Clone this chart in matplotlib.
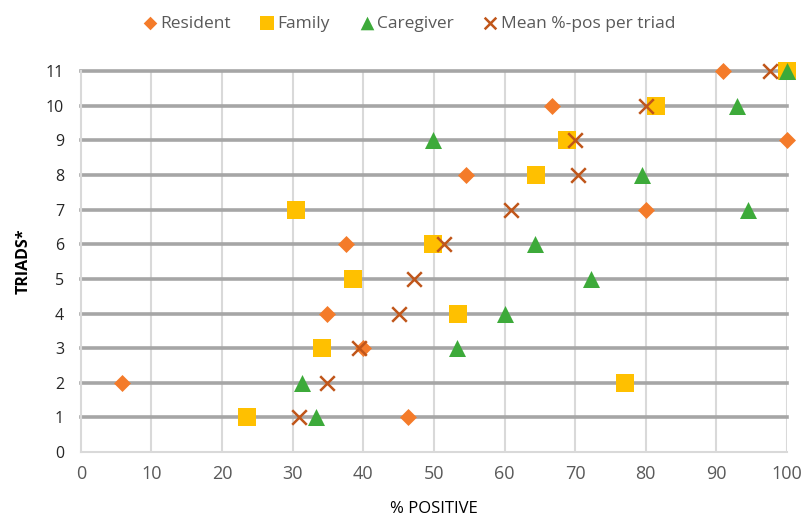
import matplotlib.pyplot as plt

plt.rcParams['font.family'] = ['Open Sans', 'DejaVu Sans']

# % positive per triad
res_x = [46.3, 5.8, 40.0, 34.9, 37.5, 80.0, 54.6, 100.0, 66.7, 91.0]
res_y = [1, 2, 3, 4, 6, 7, 8, 9, 10, 11]

fam_x = [23.5, 77.1, 34.2, 53.4, 38.6, 49.9, 30.5, 64.4, 68.8, 81.4, 100.0]
fam_y = [1, 2, 3, 4, 5, 6, 7, 8, 9, 10, 11]

care_x = [33.3, 31.3, 53.3, 60.1, 72.3, 64.3, 94.5, 79.4, 49.9, 92.9, 100.0]
care_y = [1, 2, 3, 4, 5, 6, 7, 8, 9, 10, 11]

mean_x = [30.9, 34.8, 39.4, 45.0, 47.2, 51.4, 60.9, 70.4, 70.0, 80.0, 97.6]
mean_y = [1, 2, 3, 4, 5, 6, 7, 8, 9, 10, 11]

fig = plt.figure(figsize=(8.08, 5.19), dpi=100)
ax = fig.add_axes([0.100, 0.129, 0.874, 0.734])

ax.scatter(res_x, res_y, marker='D', s=75, color='#F47B2A', label='Resident',
           zorder=3, linewidths=0, clip_on=False)
ax.scatter(fam_x, fam_y, marker='s', s=170, color='#FFC000', label='Family',
           zorder=4, linewidths=0, clip_on=False)
ax.scatter(care_x, care_y, marker='^', s=150, color='#3DAA3A', label='Caregiver',
           zorder=5, linewidths=0, clip_on=False)
ax.scatter(mean_x, mean_y, marker='x', s=110, color='#C0561A', label='Mean %-pos per triad',
           zorder=6, linewidths=1.8, clip_on=False)

ax.set_xlim(0, 100)
ax.set_ylim(0, 11)
ax.set_xticks(range(0, 101, 10))
ax.set_yticks(range(0, 12))

for y in range(1, 12):
    ax.axhline(y, color='#A6A6A6', lw=2.6, zorder=1, clip_on=False)
for x in range(10, 101, 10):
    ax.axvline(x, color='#D9D9D9', lw=1.5, zorder=0.5)

for side in ['top', 'right']:
    ax.spines[side].set_visible(False)
for side in ['left', 'bottom']:
    ax.spines[side].set_color('#D9D9D9')
    ax.spines[side].set_linewidth(1.5)

ax.tick_params(axis='both', length=0)
ax.tick_params(axis='x', labelsize=13, labelcolor='#595959', pad=9)
ax.tick_params(axis='y', labelsize=11.5, labelcolor='#262626', pad=12)

ax.set_xlabel('% POSITIVE', fontsize=12, color='#000000', labelpad=13)
ax.set_ylabel('TRIADS*', fontsize=11.5, fontweight='bold', color='#000000', labelpad=10)

fig.legend(loc='upper center', bbox_to_anchor=(0.505, 1.0), ncol=4, frameon=False,
           fontsize=12.5, labelcolor='#595959', handletextpad=0.1, columnspacing=1.6,
           markerscale=0.8, handlelength=1.0)

fig.savefig('out.png', dpi=100)
